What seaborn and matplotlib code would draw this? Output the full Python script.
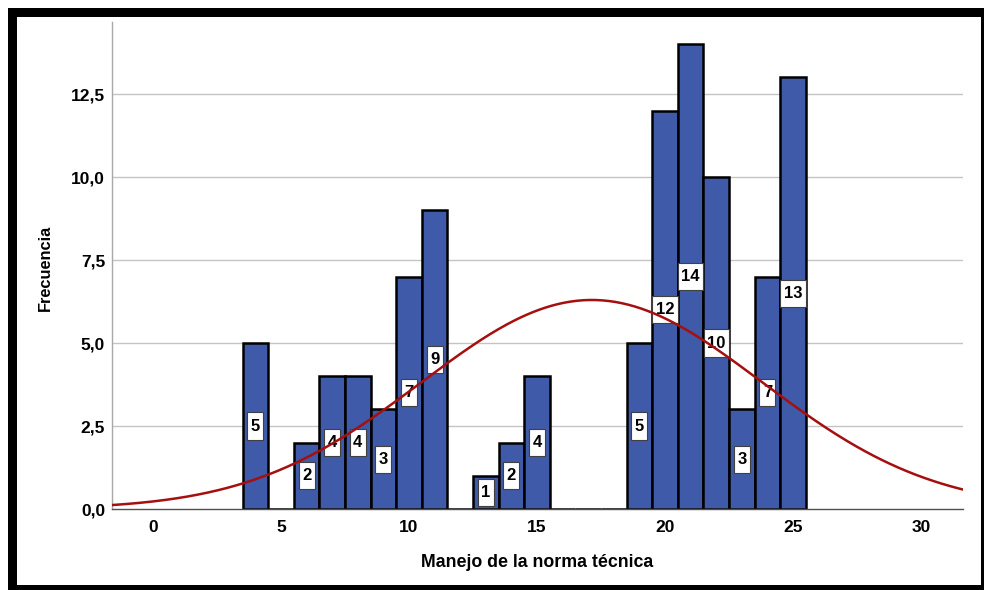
import numpy as np
import pandas as pd
import matplotlib
matplotlib.use("Agg")
import matplotlib.pyplot as plt
from matplotlib.path import Path
from matplotlib.patches import Rectangle
import seaborn as sns

# Scores and how many respondents obtained each one
scores = [4, 6, 7, 8, 9, 10, 11, 13, 14, 15, 19, 20, 21, 22, 23, 24, 25]
counts = [5, 2, 4, 4, 3, 7, 9, 1, 2, 4, 5, 12, 14, 10, 3, 7, 13]

x_ticks = [0, 5, 10, 15, 20, 25, 30]
y_ticks = [0.0, 2.5, 5.0, 7.5, 10.0, 12.5]
y_tick_labels = ["0,0", "2,5", "5,0", "7,5", "10,0", "12,5"]

x_title = "Manejo de la norma técnica"
y_title = "Frecuencia"

BAR_COLOR = "#3F5AA8"
CURVE_COLOR = "#A50F0F"

sns.set_theme(style="white")
plt.rcParams["font.family"] = ["Liberation Sans", "DejaVu Sans"]

df = pd.DataFrame({"score": scores, "n": counts})

fig = plt.figure(figsize=(9.84, 5.90), dpi=100)
ax = fig.add_axes([112 / 984, 81 / 590, 851 / 984, 487 / 590])

xmin, xmax = -1.6, 31.64
ax.set_xlim(xmin, xmax)
ax.set_ylim(0, 14.67)

# horizontal reference lines
for yv in y_ticks[1:]:
    ax.axhline(yv, color="#C4C4C4", lw=1.0, zorder=0)

sns.histplot(data=df, x="score", weights="n", discrete=True, ax=ax,
             color=BAR_COLOR, alpha=1.0, edgecolor="black", linewidth=1.8,
             zorder=2)

# fitted normal curve from the sample
vals = np.repeat(scores, counts)
mu = vals.mean()
sd = vals.std(ddof=1)
xs = np.linspace(xmin, xmax, 400)
ys = len(vals) * 1.0 / (sd * np.sqrt(2 * np.pi)) * np.exp(-0.5 * ((xs - mu) / sd) ** 2)
sns.lineplot(x=xs, y=ys, ax=ax, color=CURVE_COLOR, lw=1.8, zorder=5)


def tall_box(x0, y0, width, height, mutation_size):
    padx = 0.2 * mutation_size
    cy = y0 + height / 2
    half = 0.82 * mutation_size
    verts = [(x0 - padx, cy - half), (x0 + width + padx, cy - half),
             (x0 + width + padx, cy + half), (x0 - padx, cy + half),
             (x0 - padx, cy - half)]
    return Path(verts, closed=True)


for s, c in zip(scores, counts):
    ax.text(s, c / 2, str(c), ha="center", va="center", fontsize=12,
            fontweight="bold", color="black", zorder=4,
            bbox=dict(boxstyle=tall_box, facecolor="white",
                      edgecolor="#404040", linewidth=0.8))

ax.set_xticks(x_ticks)
ax.set_xticklabels([str(t) for t in x_ticks])
ax.set_yticks(y_ticks)
ax.set_yticklabels(y_tick_labels)
ax.tick_params(axis="both", length=0, labelsize=12.5, colors="black")
ax.tick_params(axis="x", pad=8)
ax.tick_params(axis="y", pad=5)
for lab in ax.get_xticklabels() + ax.get_yticklabels():
    lab.set_fontweight("bold")

ax.set_xlabel(x_title, fontsize=12.8, fontweight="bold", color="black")
ax.set_ylabel(y_title, fontsize=11.8, fontweight="bold", color="black")
ax.xaxis.set_label_coords(0.5, -0.109)
ax.xaxis.label.set_va("center")
ax.yaxis.set_label_coords(-0.0787, 0.495)
ax.yaxis.label.set_va("center")

for side in ["top", "right"]:
    ax.spines[side].set_visible(False)
ax.spines["bottom"].set_color("#505050")
ax.spines["bottom"].set_linewidth(1.0)
ax.spines["left"].set_color("#A8A8A8")
ax.spines["left"].set_linewidth(1.0)
ax.set_facecolor("white")

# black frame around the chart
W, H = 984, 590
frame = [(8, 8, 9, 582), (8, 8, 976, 9), (981, 8, 3, 582), (8, 585, 976, 5)]
for (x, y, w, h) in frame:
    fig.patches.append(Rectangle((x / W, 1 - (y + h) / H), w / W, h / H,
                                 transform=fig.transFigure, facecolor="black",
                                 edgecolor="none", zorder=10))

fig.savefig("out.png", dpi=100)
